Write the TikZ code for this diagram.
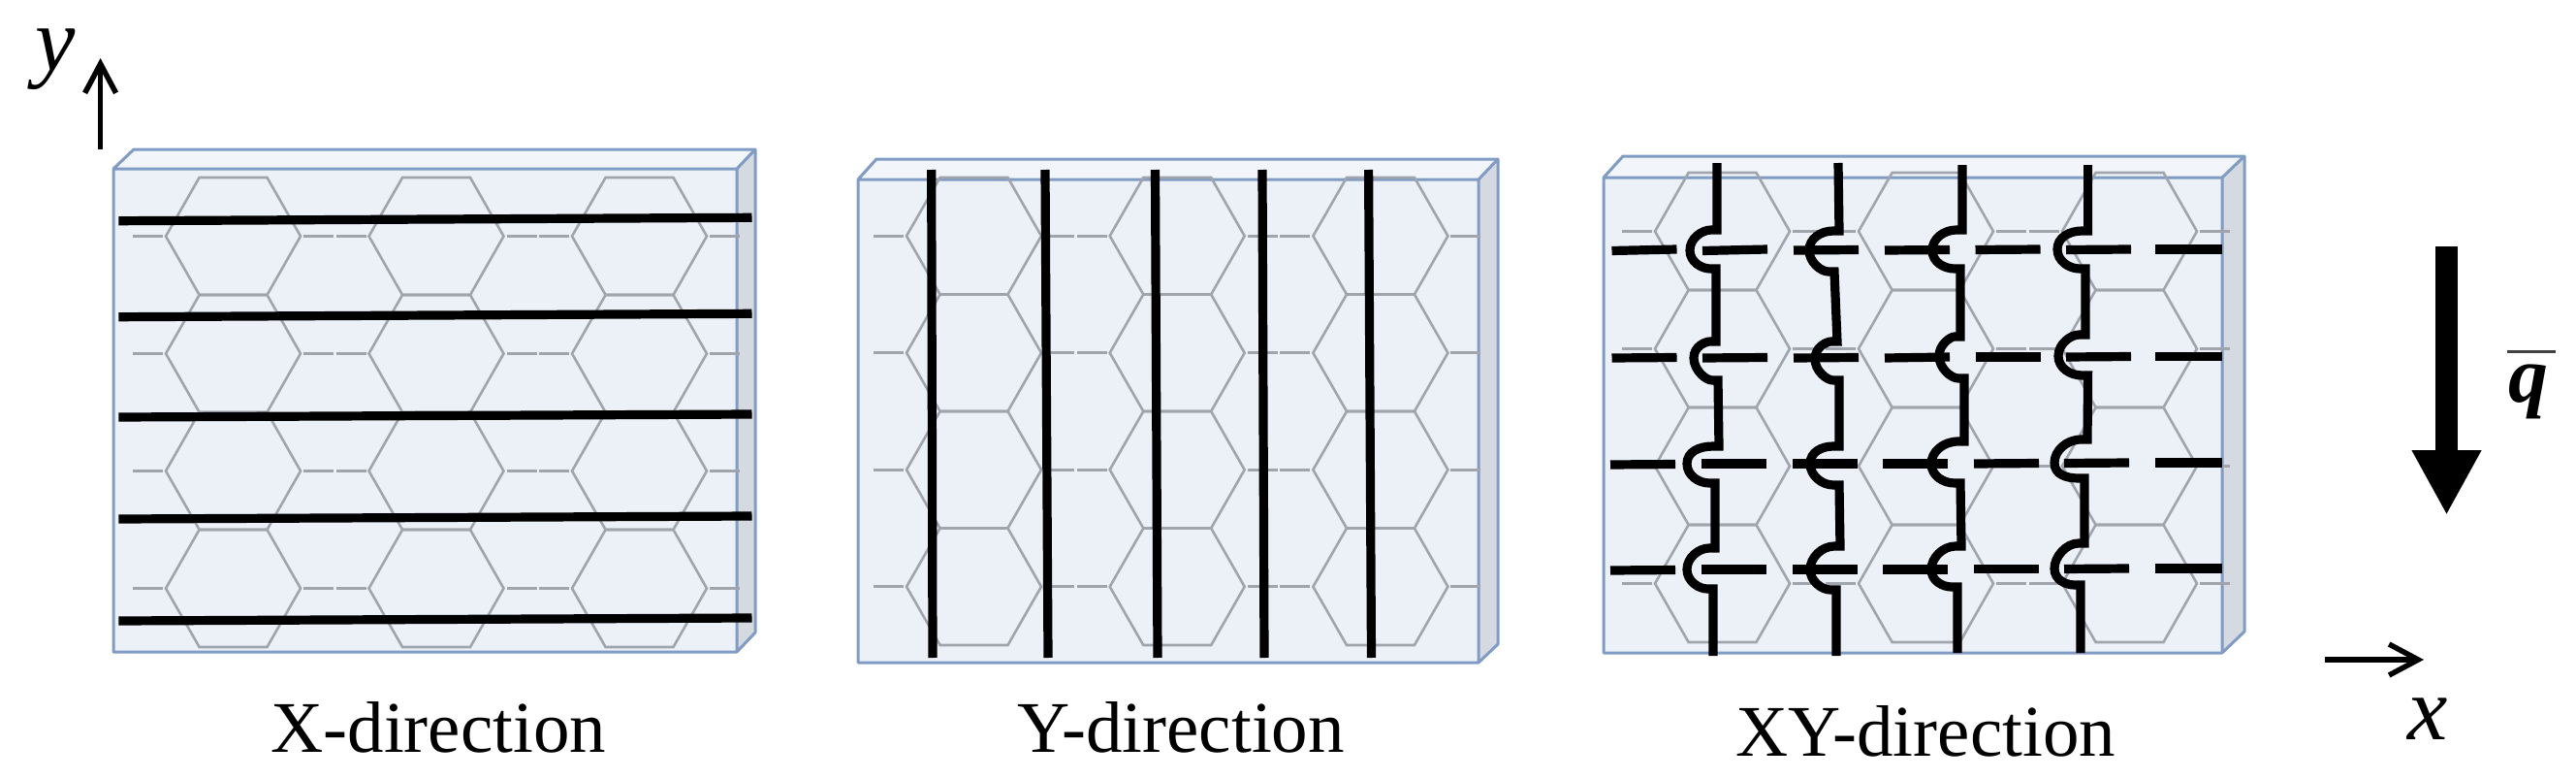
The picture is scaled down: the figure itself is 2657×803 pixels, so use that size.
\documentclass[tikz,border=0pt]{standalone}
\usepackage{fontspec}
\setmainfont{Liberation Serif}
\usetikzlibrary{arrows.meta}
\definecolor{edgeblue}{RGB}{128,156,196}
\definecolor{facefront}{RGB}{236,241,248}
\definecolor{facetop}{RGB}{242,245,249}
\definecolor{faceside}{RGB}{213,217,224}
\definecolor{hexgray}{RGB}{160,164,172}
\tikzset{
  x=0.5pt,y=-0.5pt,
  hexline/.style={draw=hexgray,line width=1.3pt,line join=miter},
  hexstub/.style={draw=hexgray,line width=1.7pt},
  rebar/.style={draw=black,line width=4.6pt,line join=miter},
  thinarrow/.style={draw=black,line width=2.75pt,-{Straight Barb[length=15pt,width=16pt,line width=2.75pt]}},
  caption/.style={anchor=base west,inner sep=0pt,font=\fontsize{37.5pt}{40pt}\selectfont},
  axislabel/.style={anchor=base west,inner sep=0pt,font=\fontsize{46.5pt}{50pt}\selectfont\itshape},
}
% front-left, front-top, front-right, front-bottom, back-left, back-top, back-right, back-bottom
\newcommand{\plate}[8]{
  \path[fill=facefront] (#1,#2) rectangle (#3,#4);
  \path[fill=facetop] (#1,#2) -- (#5,#6) -- (#7,#6) -- (#3,#2) -- cycle;
  \path[fill=faceside] (#3,#2) -- (#7,#6) -- (#7,#8) -- (#3,#4) -- cycle;
  \draw[edgeblue,line width=1.5pt,line join=round]
    (#1,#2) rectangle (#3,#4)
    (#1,#2) -- (#5,#6) -- (#7,#6) -- (#3,#2)
    (#7,#6) -- (#7,#8) -- (#3,#4);
}
% first left vertex, column period, first top, row height
\newcommand{\honeycomb}[4]{
  \foreach \c in {0,1,2}{
    \pgfmathsetmacro{\xa}{#1+\c*#2}
    \foreach \r in {0,1,2,3}{
      \pgfmathsetmacro{\yt}{#3+\r*#4}
      \pgfmathsetmacro{\ym}{\yt+#4/2}
      \pgfmathsetmacro{\yb}{\yt+#4}
      \draw[hexline] (\xa,\ym) -- (\xa+34.6,\yt) -- (\xa+104.5,\yt) -- (\xa+139,\ym) -- (\xa+104.5,\yb) -- (\xa+34.6,\yb) -- cycle;
      \draw[hexstub] (\xa-34,\ym) -- (\xa-3,\ym) (\xa+142,\ym) -- (\xa+173,\ym);
    }
  }
}
% bypass: entry x, entry y, leftmost x, centre y, exit y, exit x
\newcommand{\bypass}[6]{
  -- (#1,#2) -- (#1-6,#2) .. controls (#3+12,#2) and (#3,#4-12) .. (#3,#4)
  .. controls (#3,#4+12) and (#3+12,#5) .. (#6-6,#5) -- (#6,#5)
}
\begin{document}
\begin{tikzpicture}
\useasboundingbox (0,0) rectangle (2657,803);
\path[fill=white] (0,0) rectangle (2657,803);

% X-direction
\plate{117}{174}{760}{672}{138}{154}{779}{652}
\honeycomb{171}{209.5}{183}{121}
\foreach \ya/\yb in {227.7/224.3,326.7/323.3,430/427,535/532,640/637}{
  \draw[rebar] (122.4,\ya) -- (775.5,\yb);
}

% Y-direction
\plate{885}{185}{1525}{683}{904}{164}{1545}{664}
\honeycomb{935}{209.7}{183}{120.5}
\foreach \xa/\xb in {960.7/962,1078/1081,1191.5/1194,1302/1304,1411.6/1414.5}{
  \draw[rebar] (\xa,175) -- (\xb,678);
}

% XY-direction
\plate{1654}{183}{2292}{673}{1674}{161}{2315}{651}
\honeycomb{1707}{210}{178}{121}
\foreach \xs/\ya/\yb in {1662.5/258.5/257,1756/258.5/257,1850/258/257.5,1944/258/257.5,2037.5/257.5/257,2131/257.5/257,
                         1662.5/369/368.5,1756/369/368.5,1850/369/368.5,1944/369/368,2037.5/368/368,2131/368/367.5,
                         1661/479/478.5,1755/478/478,1849/478/478,1942/478/478,2036/478/477.5,2129/477.5/477,
                         1661/588/587.5,1755/587/587,1849/587/587,1942/587/587,2036/586.5/586.5,2129/586.5/586}{
  \draw[rebar] (\xs,\ya) -- (\xs+67,\yb);
}
\foreach \ya/\yb in {257/257,367.5/367.5,477/477,586/586}{
  \draw[rebar] (2223,\ya) -- (2292,\yb);
}
\draw[rebar] (1771,168) \bypass{1771}{237}{1743}{258}{277}{1770}
  \bypass{1770}{352}{1747}{369}{392}{1772}
  \bypass{1773}{460}{1740}{478}{498}{1769}
  \bypass{1769}{565}{1740}{587}{607}{1767} -- (1767,676);
\draw[rebar] (1896,168) \bypass{1897}{238}{1866}{258}{280}{1892}
  \bypass{1895}{352}{1872}{370}{392}{1897}
  \bypass{1897}{460}{1867}{478}{500}{1897}
  \bypass{1898}{563}{1867}{587}{608}{1894} -- (1894,676);
\draw[rebar] (2024,170) \bypass{2024}{237}{1993}{258}{277}{2022}
  \bypass{2022}{347}{2000}{367}{390}{2026}
  \bypass{2026}{455}{1992}{478}{498}{2022}
  \bypass{2023}{563}{1992}{587}{605}{2019} -- (2019,673);
\draw[rebar] (2153.6,170) \bypass{2153.6}{238}{2122}{257}{277}{2151}
  \bypass{2151}{345}{2123}{367}{387}{2153.6}
  \bypass{2153}{453}{2119}{477}{493}{2150}
  \bypass{2150}{560}{2119}{586}{603}{2146} -- (2146,673);

% captions
\node[caption] (capx) at (279,775) {X-direction};
\node[caption] (capy) at (1049,775) {Y-direction};
\node[caption] (capxy) at (1790,779) {XY-direction};

% axes
\coordinate (ystart) at (103.6,154);
\coordinate (yend) at (103.6,60);
\draw[thinarrow] (ystart) -- (yend);
\node[axislabel] (ylabel) at (36,72) {y};
\coordinate (xstart) at (2398,680);
\coordinate (xend) at (2500,680);
\draw[thinarrow] (xstart) -- (xend);
\node[axislabel] (xlabel) at (2483,762) {x};

% load
\coordinate (qstart) at (2523.5,254);
\coordinate (qend) at (2523.5,531);
\draw[line width=11.6pt,-{Triangle[length=33.5pt,width=33.5pt]}] (qstart) -- (qend);
\node[anchor=base west,inner sep=0pt,font=\fontsize{41pt}{44pt}\selectfont\bfseries\itshape] (qlabel) at (2587,414) {q};
\coordinate (barl) at (2586,362);
\coordinate (barr) at (2636,362);
\draw[black!75,line width=1.5pt] (barl) -- (barr);
\end{tikzpicture}
\end{document}
